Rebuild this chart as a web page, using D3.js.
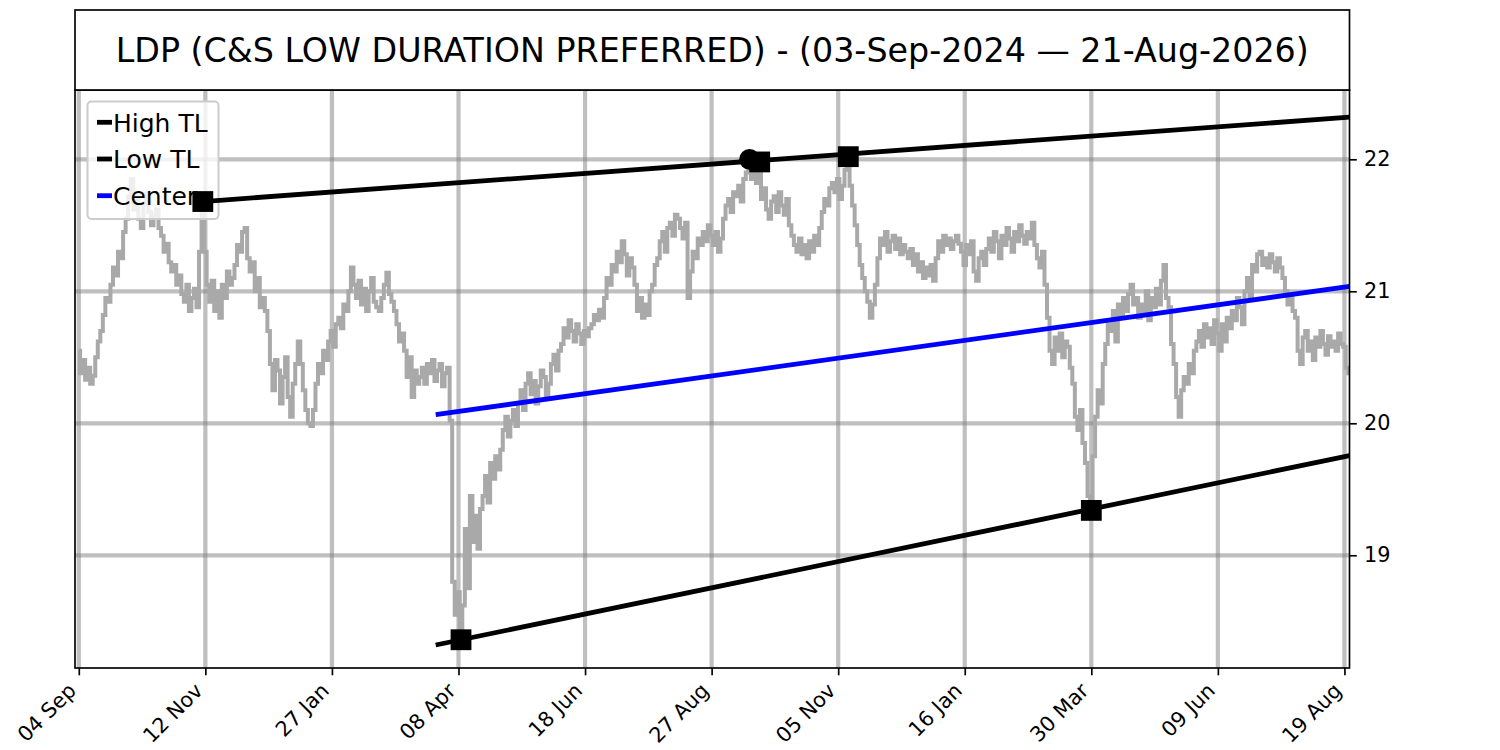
<!DOCTYPE html>
<html>
<head>
<meta charset="utf-8">
<script src="https://cdn.jsdelivr.net/npm/d3@7"></script>
<style>
  body { margin: 0; background: #fff; }
  text { font-family: "DejaVu Sans", sans-serif; }
</style>
</head>
<body>
<svg id="chart"></svg>
<script>
// daily closes, one per trading day, index 0 = 04 Sep 2024
var closes = [
  /*   0 */ 20.55, 20.38, 20.48, 20.33, 20.42, 20.30, 20.36, 20.50, 20.62,
  /*   9 */ 20.70, 20.82, 20.95, 20.92, 21.05, 21.18, 21.12, 21.30, 21.25, 21.45,
  /*  19 */ 21.55, 21.72, 21.85, 21.62, 21.70, 21.55, 21.48, 21.66, 21.74, 21.60, 21.50, 21.58, 21.62,
  /*  32 */ 21.48, 21.42, 21.30, 21.36, 21.22, 21.15, 21.20, 21.05, 21.12, 20.98, 20.92, 21.05,
  /*  44 */ 20.85, 20.95, 21.02, 20.88, 21.30,
  /*  49 */ 21.68,
  /*  50 */ 21.30, 21.05, 20.92, 21.08, 20.85, 21.00, 20.80, 21.05, 20.95, 21.15, 21.05, 21.10,
  /*  62 */ 21.20, 21.35, 21.30, 21.45, 21.48, 21.25,
  /*  68 */ 21.15, 21.22, 21.00, 21.10, 20.88, 20.95, 20.85, 20.70,
  /*  76 */ 20.45, 20.25, 20.48, 20.40, 20.15, 20.35, 20.50, 20.20, 20.05, 20.30, 20.45,
  /*  87 */ 20.62, 20.45, 20.25, 20.10, 20.00, 19.98, 20.10,
  /*  94 */ 20.30, 20.45, 20.38, 20.55, 20.48, 20.62, 20.70, 20.58, 20.75, 20.80, 20.72, 20.90, 20.85, 21.00,
  /* 108 */ 21.18, 21.05, 20.95, 21.08, 20.90, 21.02, 20.85, 21.00, 21.10, 20.92, 20.88, 20.85, 20.95, 21.05, 21.14, 20.98, 20.92,
  /* 125 */ 20.85, 20.75, 20.62, 20.68, 20.55,
  /* 130 */ 20.35, 20.50, 20.20, 20.40, 20.30,
  /* 135 */ 20.35, 20.42, 20.30, 20.45, 20.38, 20.48, 20.32, 20.40, 20.45, 20.28, 20.38, 20.42,
  /* 147 */ 20.02, 18.80, 18.55, 18.72, 18.36, 18.62, 19.20, 18.75, 19.45,
  /* 156 */ 19.10, 19.30, 19.05, 19.35,
  /* 160 */ 19.45, 19.60, 19.40, 19.70, 19.58, 19.75, 19.65, 19.80, 19.95,
  /* 169 */ 20.05, 19.90, 20.02,
  /* 172 */ 20.10, 19.98, 20.15, 20.25, 20.10, 20.30, 20.38, 20.22, 20.32, 20.15, 20.28, 20.40, 20.35, 20.20,
  /* 186 */ 20.30, 20.45, 20.52, 20.40, 20.55,
  /* 191 */ 20.60, 20.72, 20.65, 20.78, 20.70, 20.62, 20.75, 20.68, 20.60, 20.70, 20.66, 20.72,
  /* 203 */ 20.75, 20.82, 20.78, 20.86, 20.80,
  /* 208 */ 20.95, 21.10, 21.05, 21.20,
  /* 212 */ 21.15, 21.30, 21.22, 21.38, 21.28, 21.12, 21.25, 21.18, 21.05,
  /* 221 */ 20.85, 20.95, 20.80, 20.90, 20.82, 21.00, 21.05,
  /* 228 */ 21.20, 21.25, 21.38, 21.45, 21.30,
  /* 233 */ 21.48, 21.52, 21.42, 21.58, 21.55, 21.48, 21.40, 21.52,
  /* 241 */ 20.95,
  /* 242 */ 21.15, 21.30, 21.25, 21.40, 21.35, 21.45, 21.38, 21.50, 21.42, 21.35, 21.45, 21.30,
  /* 254 */ 21.40, 21.55, 21.65, 21.70, 21.60, 21.75, 21.72, 21.80, 21.68, 21.85, 21.90,
  /* 265 */ 22.00,
  /* 266 */ 21.85, 21.90, 21.82, 21.97,
  /* 270 */ 21.70, 21.78, 21.62, 21.55, 21.68, 21.72, 21.60, 21.75, 21.65, 21.58, 21.70, 21.50,
  /* 282 */ 21.42, 21.35, 21.30, 21.40, 21.28, 21.35, 21.25, 21.38, 21.30, 21.42, 21.35, 21.48,
  /* 294 */ 21.60, 21.70, 21.65, 21.78, 21.82, 21.75, 21.85, 21.70, 21.80, 21.92,
  /* 304 */ 22.02,
  /* 305 */ 21.80, 21.65, 21.50, 21.35, 21.20, 21.10, 21.00, 20.92,
  /* 313 */ 20.80, 20.90, 21.05, 21.25,
  /* 317 */ 21.40, 21.35, 21.45, 21.30, 21.38, 21.42, 21.32, 21.40, 21.28, 21.35, 21.30, 21.25, 21.32, 21.20, 21.28, 21.15, 21.22, 21.10, 21.18, 21.12,
  /* 337 */ 21.20, 21.08, 21.25, 21.38, 21.30, 21.42, 21.35, 21.40, 21.32, 21.38, 21.42, 21.36, 21.30,
  /* 350 */ 21.20, 21.35, 21.28, 21.38, 21.15, 21.08, 21.25, 21.30, 21.20, 21.32,
  /* 360 */ 21.40, 21.30, 21.45, 21.38, 21.25, 21.42, 21.35, 21.48, 21.40, 21.30, 21.45, 21.38, 21.50, 21.42, 21.36, 21.45, 21.40, 21.52,
  /* 378 */ 21.35, 21.25, 21.18, 21.30, 21.05,
  /* 383 */ 20.80, 20.55, 20.45,
  /* 386 */ 20.65, 20.55, 20.68, 20.50, 20.62, 20.58, 20.42, 20.30,
  /* 394 */ 20.05, 19.95, 20.10, 19.85, 19.70,
  /* 399 */ 19.45, 19.33, 19.75,
  /* 402 */ 20.05, 20.25, 20.15, 20.45, 20.60,
  /* 407 */ 20.75, 20.70, 20.85, 20.62, 20.90, 20.80, 20.95, 20.85,
  /* 415 */ 20.98, 21.05, 20.90, 20.95, 20.80,
  /* 420 */ 20.90, 20.85, 21.00, 20.78, 20.95, 20.88, 21.02, 20.90, 21.08, 21.20, 20.95, 20.88,
  /* 432 */ 20.60, 20.45, 20.20, 20.05, 20.25,
  /* 437 */ 20.35, 20.30, 20.45, 20.38, 20.55, 20.62,
  /* 443 */ 20.70, 20.58, 20.75, 20.65, 20.72, 20.60, 20.78, 20.68, 20.55, 20.75, 20.62, 20.80, 20.72,
  /* 456 */ 20.85, 20.78, 20.95, 20.88, 20.75, 21.00,
  /* 462 */ 21.10, 20.95, 21.20, 21.15, 21.28,
  /* 467 */ 21.30, 21.20, 21.25, 21.18, 21.28, 21.22, 21.15, 21.25, 21.18, 21.10,
  /* 477 */ 21.00, 20.90, 20.95, 20.85, 20.80,
  /* 482 */ 20.55, 20.45, 20.65,
  /* 485 */ 20.70, 20.55, 20.62, 20.48, 20.65, 20.58, 20.70, 20.60, 20.52, 20.66, 20.58, 20.62, 20.55, 20.68, 20.60, 20.58, 20.42, 20.38
];

var xTickIdx = [0, 50, 100, 150, 200, 250, 300, 350, 400, 450, 500];
var xTickLabels = ['04 Sep', '12 Nov', '27 Jan', '08 Apr', '18 Jun', '27 Aug', '05 Nov', '16 Jan', '30 Mar', '09 Jun', '19 Aug'];
var yTicks = [19, 20, 21, 22];

// pivots the trend lines are fitted through
var highPivots = [{i: 49, v: 21.68}, {i: 304, v: 22.04}];
var lowPivots = [{i: 151, v: 18.36}, {i: 400, v: 19.35}];
var highSquares = [{i: 49, v: 21.68}, {i: 269, v: 21.98}, {i: 304, v: 22.02}];
var highCircles = [{i: 265, v: 22.00}];
var lowSquares = [{i: 151, v: 18.36}, {i: 400, v: 19.34}];
var highStart = 49, lowStart = 141, lastIdx = 502;

var legendItems = [
  {label: 'High TL', color: '#000'},
  {label: 'Low TL', color: '#000'},
  {label: 'Center', color: '#0000ff'}
];

var title = 'LDP (C&S LOW DURATION PREFERRED) - (03-Sep-2024 \u2014 21-Aug-2026)';

var w = 1500, h = 750;
var pLeft = 75, pRight = 1349.5, pTop = 90, pBottom = 668;

var x = d3.scaleLinear().domain([-1.5, 502]).range([pLeft, pRight]);
var y = d3.scaleLinear().domain([18.146, 22.525]).range([pBottom, pTop]);

var svg = d3.select('#chart').attr('width', w).attr('height', h);

svg.append('clipPath').attr('id', 'plot')
  .append('rect')
  .attr('x', pLeft).attr('y', pTop)
  .attr('width', pRight - pLeft).attr('height', pBottom - pTop);

var plot = svg.append('g').attr('clip-path', 'url(#plot)');

// grid
plot.selectAll('.vgrid')
  .data(xTickIdx)
.enter().append('line')
  .attr('class', 'vgrid')
  .attr('x1', function (d) { return x(d) })
  .attr('x2', function (d) { return x(d) })
  .attr('y1', pTop).attr('y2', pBottom)
  .attr('stroke', '#808080').attr('stroke-opacity', 0.5).attr('stroke-width', 4.2);

plot.selectAll('.hgrid')
  .data(yTicks)
.enter().append('line')
  .attr('class', 'hgrid')
  .attr('y1', function (d) { return y(d) })
  .attr('y2', function (d) { return y(d) })
  .attr('x1', pLeft).attr('x2', pRight)
  .attr('stroke', '#808080').attr('stroke-opacity', 0.5).attr('stroke-width', 4.2);

// price
var priceLine = d3.line()
  .x(function (d, i) { return x(i) })
  .y(function (d) { return y(d) })
  .curve(d3.curveStep);

plot.append('path')
  .datum(closes)
  .attr('d', priceLine)
  .attr('fill', 'none')
  .attr('stroke', '#a9a9a9')
  .attr('stroke-width', 4);

// legend (sits under the trend lines and markers)
var legend = svg.append('g');
legend.append('rect')
  .attr('x', 87.5).attr('y', 101.5)
  .attr('width', 131).attr('height', 117.5)
  .attr('rx', 4)
  .attr('fill', '#fff').attr('fill-opacity', 0.8)
  .attr('stroke', '#cccccc').attr('stroke-width', 2);

var items = legend.selectAll('.item')
  .data(legendItems)
.enter().append('g')
  .attr('class', 'item')
  .attr('transform', function (d, i) { return 'translate(0,' + (122.3 + i * 36.7) + ')' });

items.append('line')
  .attr('x1', 97).attr('x2', 112)
  .attr('stroke', function (d) { return d.color })
  .attr('stroke-width', 4.8);

items.append('text')
  .attr('x', 113).attr('y', 9.3)
  .attr('font-size', '25px')
  .attr('fill', '#000')
  .text(function (d) { return d.label });

var marks = svg.append('g').attr('clip-path', 'url(#plot)');

// trend lines
function trendAt(p, i) {
  return p[0].v + (i - p[0].i) * (p[1].v - p[0].v) / (p[1].i - p[0].i);
}

var highLine = [highStart, lastIdx].map(function (i) { return [i, trendAt(highPivots, i)] });
var lowLine = [lowStart, lastIdx].map(function (i) { return [i, trendAt(lowPivots, i)] });
var centerLine = [lowStart, lastIdx].map(function (i) {
  return [i, (trendAt(highPivots, i) + trendAt(lowPivots, i)) / 2];
});

var tl = d3.line()
  .x(function (d) { return x(d[0]) })
  .y(function (d) { return y(d[1]) });

[[highLine, '#000'], [lowLine, '#000'], [centerLine, '#0000ff']].forEach(function (l) {
  marks.append('path')
    .attr('d', tl(l[0]))
    .attr('fill', 'none')
    .attr('stroke', l[1])
    .attr('stroke-width', 4.8);
});

// pivot markers
var sq = 20.8;
marks.selectAll('.sq')
  .data(highSquares.concat(lowSquares))
.enter().append('rect')
  .attr('class', 'sq')
  .attr('x', function (d) { return x(d.i) - sq / 2 })
  .attr('y', function (d) { return y(d.v) - sq / 2 })
  .attr('width', sq).attr('height', sq)
  .attr('fill', '#000');

marks.selectAll('.dot')
  .data(highCircles)
.enter().append('circle')
  .attr('class', 'dot')
  .attr('cx', function (d) { return x(d.i) })
  .attr('cy', function (d) { return y(d.v) })
  .attr('r', 10.4)
  .attr('fill', '#000');

// axes
var yAxis = svg.append('g')
  .attr('transform', 'translate(' + pRight + ',0)')
  .call(d3.axisRight(y).tickValues(yTicks).tickFormat(d3.format('d')).tickSize(7.3).tickPadding(7.3));
yAxis.select('.domain').remove();
yAxis.selectAll('line').attr('stroke', '#000').attr('stroke-width', 1.67);
yAxis.selectAll('text').attr('font-size', '20.8px').attr('font-family', '"DejaVu Sans"').attr('fill', '#000');

var xAxis = svg.append('g')
  .attr('transform', 'translate(0,' + pBottom + ')')
  .call(d3.axisBottom(x).tickValues(xTickIdx)
    .tickFormat(function (d, i) { return xTickLabels[i] })
    .tickSize(7.3));
xAxis.select('.domain').remove();
xAxis.selectAll('line').attr('stroke', '#000').attr('stroke-width', 1.67);
xAxis.selectAll('text')
  .attr('font-size', '20.8px')
  .attr('font-family', '"DejaVu Sans"')
  .attr('fill', '#000')
  .attr('x', 0).attr('y', 0).attr('dy', 0)
  .attr('text-anchor', 'end')
  .attr('transform', 'translate(-2,24) rotate(-45)');

// frame
svg.append('rect')
  .attr('x', pLeft).attr('y', pTop)
  .attr('width', pRight - pLeft).attr('height', pBottom - pTop)
  .attr('fill', 'none').attr('stroke', '#000').attr('stroke-width', 1.67);

// title box
svg.append('rect')
  .attr('x', pLeft).attr('y', 10)
  .attr('width', pRight - pLeft).attr('height', pTop - 10)
  .attr('fill', '#fff').attr('stroke', '#000').attr('stroke-width', 1.67);

svg.append('text')
  .attr('x', (pLeft + pRight) / 2)
  .attr('y', 62)
  .attr('text-anchor', 'middle')
  .attr('font-size', '33.3px')
  .attr('fill', '#000')
  .text(title);
</script>
</body>
</html>
